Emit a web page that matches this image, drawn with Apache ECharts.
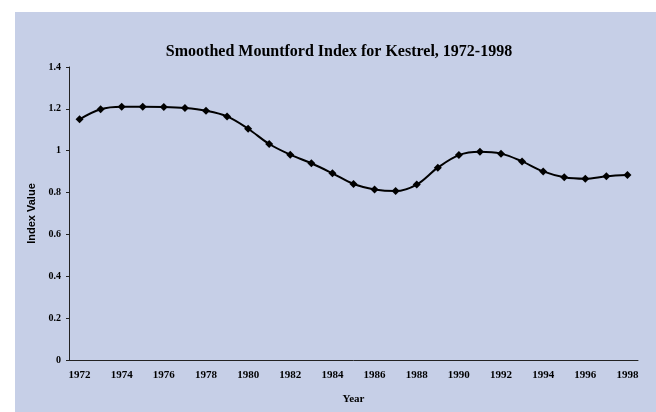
<!DOCTYPE html>
<html>
<head>
<meta charset="utf-8">
<script src="https://cdn.jsdelivr.net/npm/echarts@6/dist/echarts.min.js"></script>
<style>
    html, body { margin: 0; padding: 0; background: #ffffff; }
    #chart { width: 656px; height: 412px; }
</style>
</head>
<body>
<div id="chart"></div>
<script>
// Dữ liệu
var years = ['1972', '1973', '1974', '1975', '1976', '1977', '1978', '1979', '1980',
    '1981', '1982', '1983', '1984', '1985', '1986', '1987', '1988', '1989', '1990',
    '1991', '1992', '1993', '1994', '1995', '1996', '1997', '1998'];
var indexValues = [1.150, 1.198, 1.210, 1.210, 1.209, 1.204, 1.191, 1.164, 1.105,
    1.032, 0.981, 0.940, 0.892, 0.841, 0.815, 0.807, 0.838, 0.919, 0.979,
    0.995, 0.986, 0.949, 0.901, 0.873, 0.866, 0.878, 0.884];
var yTicks = { min: 0, max: 1.4, step: 0.2 };

var chartDom = document.getElementById('chart');
var myChart = echarts.init(chartDom);

var serif = '"Liberation Serif", "DejaVu Serif", serif';
var sans = '"Liberation Sans", Arial, sans-serif';

var option = {
    backgroundColor: '#ffffff',
    animation: false,
    graphic: [{
        type: 'rect',
        z: -10,
        shape: { x: 15, y: 12, width: 641, height: 400 },
        style: { fill: '#c6cfe7' }
    }],
    title: {
        text: 'Smoothed Mountford Index for Kestrel, 1972-1998',
        left: 334,
        top: 39,
        textAlign: 'center',
        textStyle: { fontFamily: serif, fontWeight: 'bold', fontSize: 16, color: '#000' }
    },
    grid: { left: 69, right: 18, top: 67, bottom: 52 },
    xAxis: {
        type: 'category',
        data: years,
        boundaryGap: true,
        name: 'Year',
        nameLocation: 'middle',
        nameGap: 34,
        nameTextStyle: { fontFamily: serif, fontWeight: 'bold', fontSize: 11, color: '#000' },
        axisLine: { lineStyle: { color: '#222', width: 1 } },
        axisTick: { interval: 0, length: 3, lineStyle: { color: '#222' } },
        axisLabel: { interval: 1, margin: 10, fontFamily: serif, fontWeight: 'bold', fontSize: 11, color: '#000' },
        splitLine: { show: false }
    },
    yAxis: {
        type: 'value',
        min: yTicks.min,
        max: yTicks.max,
        interval: yTicks.step,
        name: 'Index Value',
        nameLocation: 'middle',
        nameGap: 32,
        nameTextStyle: { fontFamily: sans, fontWeight: 'bold', fontSize: 11, color: '#000' },
        axisLine: { show: true, lineStyle: { color: '#222', width: 1 } },
        axisTick: { show: true, length: 3, lineStyle: { color: '#222' } },
        axisLabel: { margin: 8, fontFamily: serif, fontWeight: 'bold', fontSize: 10, color: '#000' },
        splitLine: { show: false }
    },
    series: [{
        type: 'line',
        data: indexValues,
        smooth: 0.35,
        symbol: 'diamond',
        symbolSize: [8, 8],
        itemStyle: { color: '#000' },
        lineStyle: { color: '#000', width: 2 }
    }]
};

myChart.setOption(option);
</script>
</body>
</html>
